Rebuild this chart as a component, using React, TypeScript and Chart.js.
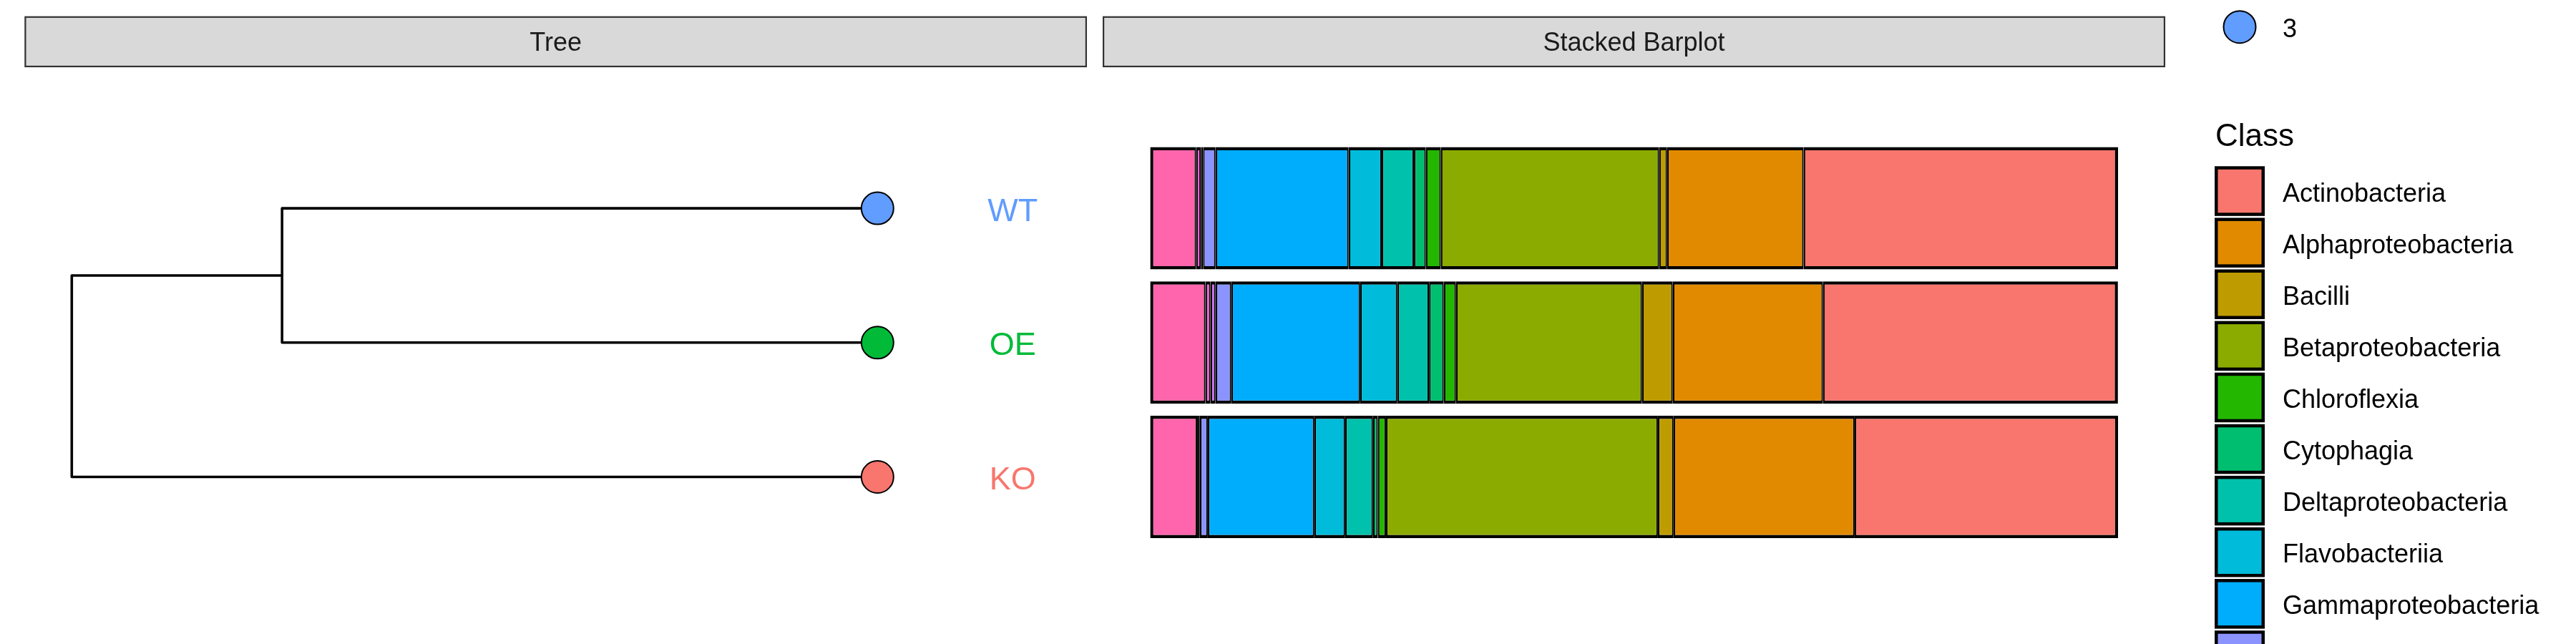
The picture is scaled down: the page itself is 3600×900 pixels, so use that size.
import React, { useEffect, useRef } from 'react';
import { Chart, registerables } from 'chart.js';

Chart.register(...registerables);

// ---------- data ----------
const samples = ['WT', 'OE', 'KO'];
const sampleColors = ['#619CFF', '#00BA38', '#F8766D'];
const tipY = [3, 2, 1];
const tipDepth = [1, 1, 1];
const cladeDepth = 0.261; // common ancestor of WT and OE
const cladeY = 2.5;
const rootDepth = 0;

const classes = [
  'Actinobacteria',
  'Alphaproteobacteria',
  'Bacilli',
  'Betaproteobacteria',
  'Chloroflexia',
  'Cytophagia',
  'Deltaproteobacteria',
  'Flavobacteriia',
  'Gammaproteobacteria',
  'Nitrospira',
  'Planctomycetia',
  'Sphingobacteriia',
  'Others',
];
const classColors = [
  '#F8766D', '#E18A00', '#BE9C00', '#8CAB00', '#24B700', '#00BE70', '#00C1AB',
  '#00BBDA', '#00ACFC', '#8B93FF', '#D575FE', '#F962DD', '#FF65AC',
];
// relative abundance (%) per class, in the order of `classes`
const wtValues = [32.48, 14.11, 0.82, 22.55, 1.55, 1.23, 3.33, 3.42, 13.75, 1.29, 0.22, 0.49, 4.76];
const oeValues = [30.47, 15.52, 3.18, 19.22, 1.26, 1.52, 3.28, 3.84, 13.31, 1.63, 0.52, 0.52, 5.72];
const koValues = [27.22, 18.71, 1.62, 28.09, 0.84, 0.50, 2.88, 3.18, 11.01, 0.82, 0.13, 0.15, 4.86];

const stripTitles = ['Tree', 'Stacked Barplot'];
const legendTitle = 'Class';
const groupLegendLabel = '3';

const FONT = '"Liberation Sans", Arial, Helvetica, sans-serif';

const W = 3600;
const H = 900;

export default function App() {
  const treeRef = useRef<HTMLCanvasElement>(null);
  const barRef = useRef<HTMLCanvasElement>(null);

  useEffect(() => {
    const plotTop = 197.25;
    const plotBottom = 760.35;

    // ---------- stacked bar chart ----------
    const n = classes.length;
    const stackOrder = classes.map((_, i) => n - 1 - i); // last class drawn leftmost
    const barDatasets = stackOrder.map((ci, k) => ({
      label: classes[ci],
      data: [wtValues[ci], oeValues[ci], koValues[ci]],
      backgroundColor: classColors[ci],
      borderColor: '#000000',
      borderWidth: {
        top: 4.5,
        bottom: 4.5,
        left: k === 0 ? 4.5 : 2.25,
        right: k === n - 1 ? 4.5 : 2.25,
      },
      borderSkipped: false,
      inflateAmount: 0,
      barPercentage: 0.911,
      categoryPercentage: 1,
    }));

    const overlayPlugin = {
      id: 'overlay',
      afterDraw(chart: any) {
        const ctx = chart.ctx as CanvasRenderingContext2D;
        ctx.save();
        // facet strips
        const strips = [
          { x0: 34.3, x1: 1519, title: stripTitles[0] },
          { x0: 1541, x1: 3026, title: stripTitles[1] },
        ];
        strips.forEach((s) => {
          ctx.fillStyle = '#D9D9D9';
          ctx.fillRect(s.x0, 22.7, s.x1 - s.x0, 71.3);
          ctx.strokeStyle = '#333333';
          ctx.lineWidth = 2.2;
          ctx.strokeRect(s.x0 + 1.1, 23.8, s.x1 - s.x0 - 2.2, 69.1);
          ctx.fillStyle = '#1A1A1A';
          ctx.font = `36px ${FONT}`;
          ctx.textAlign = 'center';
          ctx.textBaseline = 'alphabetic';
          ctx.fillText(s.title, (s.x0 + s.x1) / 2, 58.35 + 13);
        });

        // group legend (only its last key is inside the picture)
        ctx.beginPath();
        ctx.arc(3130, 37.7, 22.5, 0, Math.PI * 2);
        ctx.fillStyle = sampleColors[0];
        ctx.fill();
        ctx.lineWidth = 2;
        ctx.strokeStyle = '#000000';
        ctx.stroke();
        ctx.fillStyle = '#000000';
        ctx.font = `36px ${FONT}`;
        ctx.textAlign = 'left';
        ctx.fillText(groupLegendLabel, 3190, 51.7);

        // class legend
        ctx.font = `44px ${FONT}`;
        ctx.fillText(legendTitle, 3096, 204);
        ctx.font = `36px ${FONT}`;
        classes.forEach((c, i) => {
          const top = 232.3 + i * 72.1;
          if (top > H) return;
          ctx.fillStyle = '#000000';
          ctx.fillRect(3095, top, 70, 69.5);
          ctx.fillStyle = classColors[i];
          ctx.fillRect(3099.5, top + 4.5, 61, 60.5);
          ctx.fillStyle = '#000000';
          ctx.fillText(c, 3190, top + 34.75 + 14.5);
        });
        ctx.restore();
      },
    };

    const bar = new Chart(barRef.current as HTMLCanvasElement, {
      type: 'bar',
      data: { labels: samples, datasets: barDatasets as any },
      options: {
        indexAxis: 'y',
        animation: false,
        responsive: false,
        devicePixelRatio: 1,
        events: [],
        layout: {
          padding: { left: 1607.3, right: W - 2960, top: plotTop, bottom: H - plotBottom },
        },
        scales: {
          x: { stacked: true, min: 0, max: 100, display: false },
          y: { stacked: true, display: false, offset: true },
        },
        plugins: { legend: { display: false }, tooltip: { enabled: false } },
      },
      plugins: [overlayPlugin],
    });

    // ---------- tree ----------
    const lowerPath = [
      { x: tipDepth[2], y: tipY[2] },
      { x: rootDepth, y: tipY[2] },
      { x: rootDepth, y: cladeY },
      { x: cladeDepth, y: cladeY },
    ];
    const upperPath = [
      { x: tipDepth[0], y: tipY[0] },
      { x: cladeDepth, y: tipY[0] },
      { x: cladeDepth, y: tipY[1] },
      { x: tipDepth[1], y: tipY[1] },
    ];
    const tips = samples.map((_, i) => ({ x: tipDepth[i], y: tipY[i] }));

    const lineStyle = {
      showLine: true,
      borderColor: '#000000',
      borderWidth: 3.6,
      pointRadius: 0,
      tension: 0,
      borderJoinStyle: 'round',
      borderCapStyle: 'butt',
      clip: false,
    };

    const tipLabelPlugin = {
      id: 'tipLabels',
      afterDatasetsDraw(chart: any) {
        const ctx = chart.ctx as CanvasRenderingContext2D;
        const xs = chart.scales.x;
        const ys = chart.scales.y;
        ctx.save();
        ctx.font = `45px ${FONT}`;
        ctx.textAlign = 'center';
        ctx.textBaseline = 'alphabetic';
        samples.forEach((s, i) => {
          ctx.fillStyle = sampleColors[i];
          ctx.fillText(s, xs.getPixelForValue(tipDepth[i]) + 189, ys.getPixelForValue(tipY[i]) + 17.5);
        });
        ctx.restore();
      },
    };

    const tree = new Chart(treeRef.current as HTMLCanvasElement, {
      type: 'scatter',
      data: {
        datasets: [
          {
            label: 'tips',
            data: tips,
            pointRadius: 22.5,
            pointBackgroundColor: sampleColors,
            pointBorderColor: '#000000',
            pointBorderWidth: 2,
            showLine: false,
            clip: false,
          } as any,
          { label: 'upper', data: upperPath, ...lineStyle } as any,
          { label: 'lower', data: lowerPath, ...lineStyle } as any,
        ],
      },
      options: {
        animation: false,
        responsive: false,
        devicePixelRatio: 1,
        events: [],
        layout: {
          padding: { left: 100.3, right: W - 1226.3, top: plotTop, bottom: H - plotBottom },
        },
        scales: {
          x: { type: 'linear', min: 0, max: 1, display: false },
          y: { type: 'linear', min: 0.5, max: 3.5, display: false },
        },
        plugins: { legend: { display: false }, tooltip: { enabled: false } },
      },
      plugins: [tipLabelPlugin],
    });

    return () => {
      tree.destroy();
      bar.destroy();
    };
  }, []);

  const canvasStyle: React.CSSProperties = {
    position: 'absolute',
    left: 0,
    top: 0,
    width: W,
    height: H,
  };

  return (
    <div
      style={{
        position: 'absolute',
        left: 0,
        top: 0,
        width: W,
        height: H,
        background: '#FFFFFF',
        overflow: 'hidden',
      }}
    >
      <canvas ref={barRef} width={W} height={H} style={canvasStyle} />
      <canvas ref={treeRef} width={W} height={H} style={canvasStyle} />
    </div>
  );
}
